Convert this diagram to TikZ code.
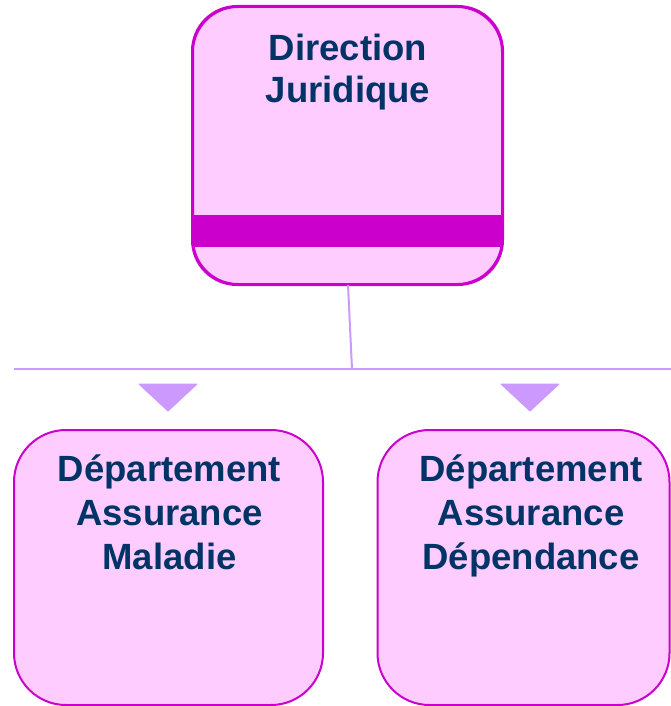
\documentclass[tikz,border=0pt]{standalone}
\usepackage{fontspec}
\setmainfont{Liberation Sans}
\definecolor{boxfill}{HTML}{FFCCFF}
\definecolor{boxline}{HTML}{CC00CC}
\definecolor{txtcol}{HTML}{003366}
\definecolor{conn}{HTML}{CC99FF}
\tikzset{
  orgbox/.style={draw=boxline, fill=boxfill, line width=2pt, rounded corners=52pt, inner sep=0pt},
  toptxt/.style={text=txtcol, align=center, inner sep=0pt, anchor=north, font={\fontsize{36.5pt}{42pt}\selectfont\bfseries}},
  bottxt/.style={text=txtcol, align=center, inner sep=0pt, anchor=north, font={\fontsize{36.5pt}{44pt}\selectfont\bfseries}},
  connline/.style={draw=conn, line width=2pt},
  marker/.style={fill=conn, draw=conn, line width=1pt, line join=round},
}
\begin{document}
\begin{tikzpicture}[x=1pt,y=-1pt]
\useasboundingbox (0,0) rectangle (671,706);
% top box
\node[orgbox, rounded corners=45pt, minimum width=309pt, minimum height=277pt] (dir) at (347.5,145.5) {};
\begin{scope}
  \clip[rounded corners=45pt] (dir.north west) rectangle (dir.south east);
  \fill[boxline] (193,215) rectangle (502,247);
\end{scope}
\draw[draw=boxline, line width=2pt, rounded corners=45pt] (dir.north west) rectangle (dir.south east);
\node[toptxt] (dirtxt) at (348,34) {Direction\\Juridique};
% connectors
\coordinate (bus) at (352,369);
\coordinate (busl) at (14,369);
\coordinate (busr) at (671,369);
\draw[connline] ([xshift=0.5pt]dir.south) -- (bus);
\draw[connline] (busl) -- (busr);
% markers
\fill[marker] (139,384) -- (197,384) -- (168,411) -- cycle;
\fill[marker] (501,384) -- (559,384) -- (530,411) -- cycle;
% bottom boxes
\node[orgbox, minimum width=309pt, minimum height=275pt] (mal) at (168.5,567.5) {};
\node[orgbox, minimum width=292pt, minimum height=275pt] (dep) at (523.5,567.5) {};
\node[bottxt] (maltxt) at (169.5,455) {Département\\Assurance\\Maladie};
\node[bottxt] (deptxt) at (531,455) {Département\\Assurance\\Dépendance};
\end{tikzpicture}
\end{document}
